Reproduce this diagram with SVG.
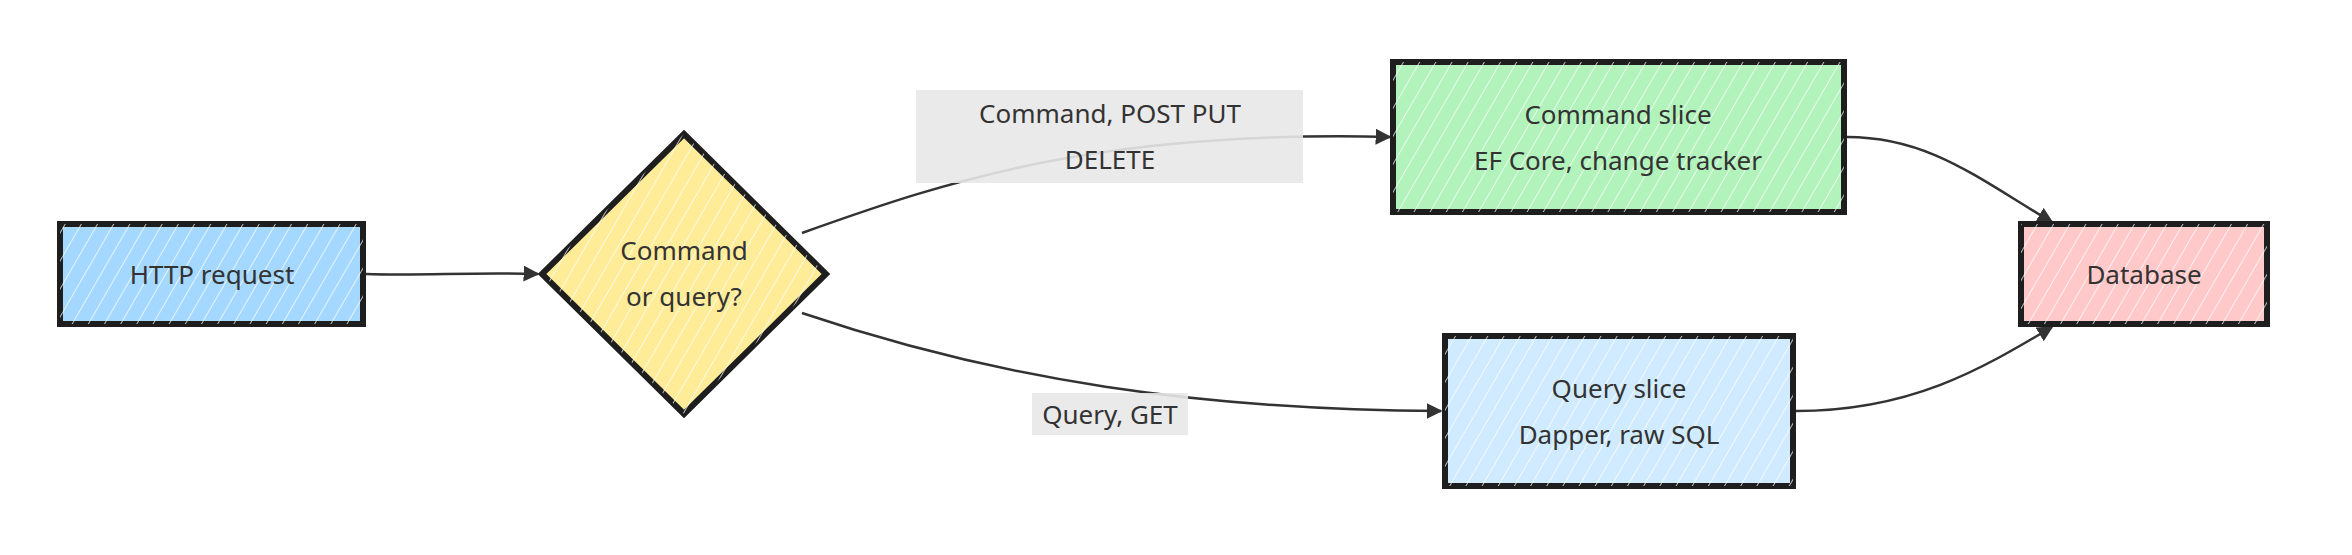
<svg xmlns="http://www.w3.org/2000/svg" width="2352" height="555" viewBox="0 0 2352 555">
<defs>
<pattern id="hatch" width="14" height="14" patternUnits="userSpaceOnUse" patternTransform="rotate(30)">
<line x1="0" y1="0" x2="0" y2="14" stroke="#fff" stroke-width="2" stroke-opacity="0.7"/>
</pattern>
<marker id="arrL" viewBox="0 0 10 10" refX="9" refY="5" markerWidth="16" markerHeight="16" orient="auto" markerUnits="userSpaceOnUse"><path d="M0,0 L10,5 L0,10 z" fill="#333"/></marker>
</defs>
<style>
.n{stroke:#1e1e1e;stroke-width:6;}
.t{font-family:"Noto Sans","Open Sans",sans-serif;font-size:26px;fill:#333;text-anchor:middle;dominant-baseline:central;}
.e{fill:none;stroke:#333;stroke-width:2.5;}
.lb{fill:#e8e8e8;opacity:0.9;}
</style>
<rect width="2352" height="555" fill="#fff"/>
<g id="connectors">
<path class="e" d="M366,274 C420,276 470,272 538,274" marker-end="url(#arrL)"/>
<path class="e" d="M802,233 C950,180 1100,130 1390,137" marker-end="url(#arrL)"/>
<path class="e" d="M802,313 C1000,380 1200,410 1441,411" marker-end="url(#arrL)"/>
<path class="e" d="M1847,137 C1930,137 1980,180 2052,222" marker-end="url(#arrL)"/>
<path class="e" d="M1796,411 C1910,411 1980,370 2052,327" marker-end="url(#arrL)"/>
<rect class="lb" x="916" y="90" width="387" height="93"/>
<text class="t" x="1110" y="113">Command, POST PUT</text>
<text class="t" x="1110" y="159">DELETE</text>
<rect class="lb" x="1032" y="393" width="156" height="42"/>
<text class="t" x="1110" y="414">Query, GET</text>
</g>
<g id="http">
<rect class="n" x="60" y="224" width="303" height="100" fill="#a5d8ff"/>
<rect x="60" y="224" width="303" height="100" fill="url(#hatch)"/>
<text class="t" x="212" y="274">HTTP request</text>
</g>
<g id="decision">
<polygon class="n" points="684,134 826,274 684,414 542,274" fill="#ffec99"/>
<polygon points="684,134 826,274 684,414 542,274" fill="url(#hatch)"/>
<text class="t" x="684" y="250">Command</text>
<text class="t" x="684" y="296">or query?</text>
</g>
<g id="command">
<rect class="n" x="1393" y="62" width="451" height="150" fill="#b2f2bb"/>
<rect x="1393" y="62" width="451" height="150" fill="url(#hatch)"/>
<text class="t" x="1618" y="114">Command slice</text>
<text class="t" x="1618" y="160">EF Core, change tracker</text>
</g>
<g id="query">
<rect class="n" x="1445" y="336" width="348" height="150" fill="#d0ebff"/>
<rect x="1445" y="336" width="348" height="150" fill="url(#hatch)"/>
<text class="t" x="1619" y="388">Query slice</text>
<text class="t" x="1619" y="434">Dapper, raw SQL</text>
</g>
<g id="database">
<rect class="n" x="2021" y="224" width="246" height="100" fill="#ffc9c9"/>
<rect x="2021" y="224" width="246" height="100" fill="url(#hatch)"/>
<text class="t" x="2144" y="274">Database</text>
</g>
</svg>
